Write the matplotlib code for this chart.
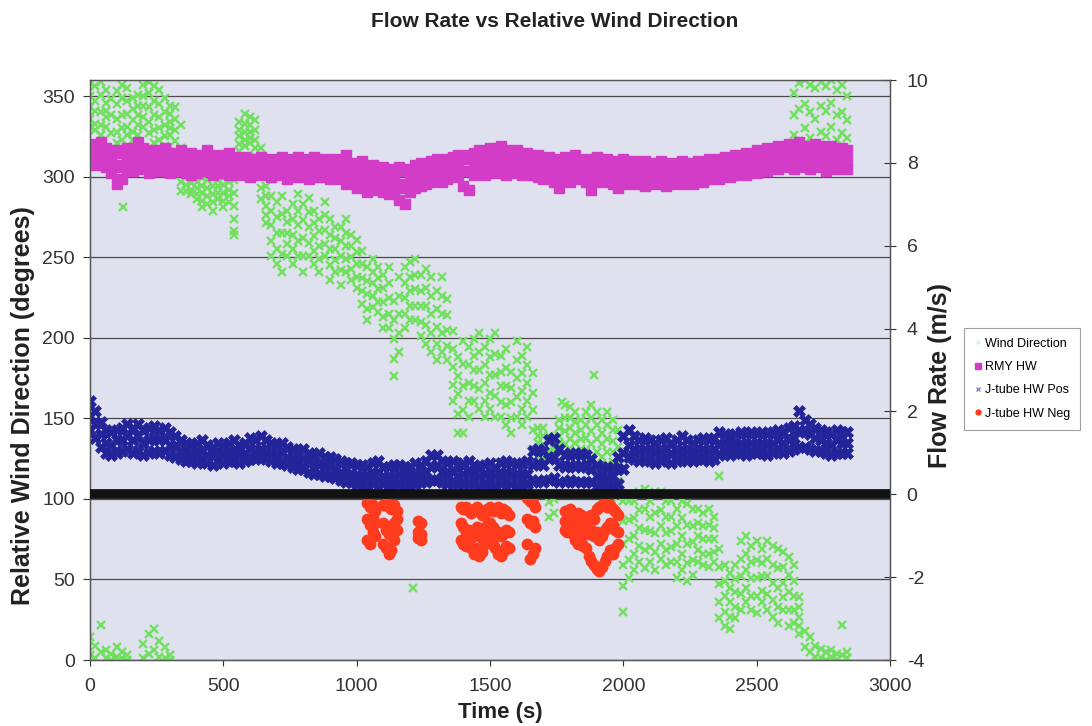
import numpy as np
import matplotlib
matplotlib.use('Agg')
import matplotlib.pyplot as plt
from matplotlib.lines import Line2D

plt.rcParams['font.family'] = ['Liberation Sans', 'DejaVu Sans']
plt.rcParams['axes.unicode_minus'] = False

# ---------------- data ----------------
# Wind direction (deg), main cloud sampled every 20 s, five readings per time
wind_time = np.arange(0, 2661, 20)
wind_s1 = [358,356,359,354,348,353,357,355,349,351, 357,359,356,354,349,344,343,332,309,304,
           301,299,304,299,302,299,301,298,334,339, 337,335,318,294,288,284,288,279,283,289,
           283,287,279,274,284,274,269,269,274,264, 261,254,244,249,244,239,244,223,238,244,
           247,249,239,243,238,229,238,224,204,188, 198,194,199,203,194,199,203,189,193,179,
           198,189,194,178,144,144,139,138,149,158, 157,154,149,154,158,154,149,154,149,143,
           99,99,99,104,106,99,104,104,99,99, 94,99,97,94,94,91,94,89,69,59,
           54,59,74,77,71,74,69,74,71,69, 67,64,59,39]
wind_s2 = [350,347,351,346,338,345,349,347,342,344, 350,352,347,345,340,339,336,318,304,300,
           297,294,298,294,298,295,297,290,329,333, 332,329,310,288,279,275,277,272,274,279,
           273,278,271,266,276,264,262,260,265,257, 253,246,235,241,237,231,234,211,226,234,
           238,239,229,231,226,218,226,214,193,176, 184,183,189,191,183,188,190,179,181,169,
           186,178,183,166,139,139,130,131,144,150, 150,148,143,146,150,146,141,146,143,132,
           86,87,88,93,94,89,91,93,89,89, 83,88,84,83,85,83,84,82,58,49,
           45,50,63,66,61,62,60,63,59,57, 58,53,49,33]
wind_s3 = [343,341,340,341,327,336,338,339,335,338, 344,343,338,337,332,334,329,305,300,296,
           293,290,293,289,294,290,292,282,325,328, 328,323,301,282,270,265,265,265,264,270,
           262,269,263,257,267,255,255,251,257,250, 246,237,227,234,230,222,225,199,215,225,
           229,230,220,220,215,207,215,205,182,165, 170,172,180,180,172,177,177,170,170,160,
           175,167,172,155,135,134,125,126,139,142, 144,141,137,138,142,137,134,137,136,122,
           72,75,77,82,81,80,79,83,79,80, 72,77,72,73,77,75,75,75,47,40,
           36,42,52,56,51,51,52,52,48,45, 48,42,40,27]
wind_s4 = [336,333,332,337,315,328,330,331,328,332, 337,334,329,330,325,330,322,297,295,292,
           289,285,288,284,290,285,288,274,320,323, 324,318,293,276,260,255,252,258,255,260,
           251,259,254,249,258,245,248,242,249,243, 238,229,218,226,222,213,215,187,203,215,
           220,220,210,208,203,196,203,195,171,153, 155,161,170,168,161,166,164,160,158,150,
           163,156,161,143,130,130,98,100,134,134, 137,135,131,130,134,129,126,129,129,111,
           59,62,66,71,68,70,67,72,68,70, 61,66,60,62,68,66,66,67,36,30,
           27,33,41,45,40,40,43,41,37,33, 39,31,31,21]
wind_s5 = [331,329,326,331,304,321,323,326,323,326, 331,327,321,323,319,326,316,291,291,289,
           286,281,283,279,286,281,284,266,316,319, 321,313,286,271,251,246,241,251,246,251,
           241,251,246,241,251,236,241,233,241,236, 231,221,211,219,216,206,206,176,191,206,
           211,211,201,196,191,186,191,186,161,141, 141,151,161,156,151,156,151,151,146,141,
           151,146,151,131,126,126,89,91,129,126, 131,129,126,123,126,121,119,121,123,101,
           46,51,56,61,57,61,56,63,59,61, 51,56,49,53,61,59,58,61,26,21,
           19,26,31,36,31,29,36,31,27,23, 31,21,23,16]
# wind direction readings wrapped near 360 at the end of the run
wrap_hi_time = np.arange(2640, 2841, 20)
wrap_hi_a = [352, 358, 360, 357, 355, 359, 356, 360, 354, 357, 350]
wrap_hi_b = [338, 342, 345, 340, 336, 344, 341, 346, 338, 340, 335]
wrap_hi_c = [326, 322, 330, 324, 320, 328, 325, 331, 323, 327, 324]
# wind direction readings wrapped near 0 (start and end of the run)
wrap_lo_time = [0, 20, 40, 60, 80, 100, 120, 140, 200, 220, 240, 260, 280, 300,
                2680, 2700, 2720, 2740, 2760, 2780, 2800, 2820, 2840]
wrap_lo_a = [14, 9, 22, 6, 4, 8, 5, 3, 10, 16, 19, 12, 8, 3,
             18, 14, 9, 7, 5, 6, 4, 22, 5]
wrap_lo_b = [3, 1, 5, 1, 0, 2, 1, 0, 1, 4, 6, 2, 1, 0,
             8, 5, 2, 1, 0, 2, 0, 3, 1]
# isolated wind direction readings
wind_out_time = [125, 540, 1211, 1770, 1890, 2000, 2360]
wind_out = [281, 264, 45, 160, 177, 30, 114]

# Flow rate series (m/s), sampled every 20 s
flow_time = np.arange(0, 2841, 20)
rmy_hi = [8.45,8.4,8.5,8.35,8.3,8.25,8.3,8.35,8.3,8.5, 8.35,8.3,8.25,8.3,8.35,8.25,8.2,8.3,8.2,8.25,
          8.15,8.2,8.3,8.2,8.15,8.2,8.25,8.15,8.1,8.15, 8.1,8.05,8.15,8.1,8.05,8.1,8.15,8.05,8.1,8.15,
          8.05,8.1,8.15,8.05,8.1,8.0,8.1,8.05,8.2,8.0, 7.95,8.05,7.9,7.95,7.85,7.9,7.8,7.85,7.9,7.8,
          7.85,7.95,8.0,7.95,8.05,8.1,8.0,8.1,8.15,8.2, 8.1,8.2,8.25,8.3,8.25,8.35,8.3,8.4,8.3,8.25,
          8.3,8.2,8.25,8.15,8.2,8.1,8.15,8.1,8.05,8.15, 8.1,8.2,8.1,8.05,8.1,8.15,8.05,8.1,8.0,8.05,
          8.1,8.0,8.05,7.95,8.05,8.0,7.95,8.05,8.0,7.95, 8.0,8.05,7.95,8.0,8.05,8.0,8.1,8.05,8.1,8.15,
          8.1,8.2,8.15,8.25,8.2,8.3,8.25,8.35,8.3,8.4, 8.35,8.45,8.4,8.5,8.4,8.35,8.45,8.4,8.35,8.4,
          8.3,8.35,8.3]
rmy_mid = [8.2,8.15,8.3,8.1,8.0,7.9,7.95,8.1,8.05,8.15, 8.1,8.0,8.05,8.1,8.05,8.0,8.0,8.05,8.0,7.95,
           7.95,8.0,8.05,7.95,7.95,8.0,7.95,7.95,7.9,7.95, 7.9,7.85,7.95,7.9,7.85,7.9,7.95,7.85,7.9,7.9,
           7.85,7.85,7.9,7.85,7.9,7.8,7.85,7.8,7.85,7.8, 7.7,7.75,7.6,7.65,7.6,7.6,7.5,7.6,7.5,7.4,
           7.55,7.7,7.7,7.7,7.8,7.85,7.75,7.85,7.9,7.95, 7.8,7.8,7.95,8.0,7.95,8.05,8.0,8.1,8.0,8.0,
           8.05,7.95,8.0,7.9,7.9,7.85,7.9,7.8,7.75,7.9, 7.8,7.9,7.85,7.8,7.75,7.85,7.8,7.85,7.75,7.7,
           7.8,7.75,7.8,7.7,7.75,7.75,7.75,7.8,7.7,7.7, 7.8,7.75,7.75,7.75,7.8,7.8,7.85,7.85,7.85,7.9,
           7.9,7.95,7.95,8.0,8.0,8.05,8.05,8.1,8.1,8.1, 8.1,8.2,8.1,8.2,8.15,8.1,8.2,8.15,8.1,8.15,
           8.1,8.1,8.05]
rmy_lo = [8.0,7.95,8.05,7.9,7.75,7.5,7.6,7.85,7.8,7.85, 7.9,7.75,7.8,7.85,7.8,7.75,7.8,7.85,7.75,7.7,
          7.75,7.8,7.85,7.7,7.75,7.8,7.7,7.75,7.7,7.75, 7.65,7.7,7.75,7.7,7.65,7.7,7.75,7.6,7.7,7.65,
          7.7,7.6,7.7,7.65,7.7,7.6,7.65,7.6,7.5,7.6, 7.4,7.45,7.3,7.35,7.4,7.3,7.25,7.35,7.1,7.0,
          7.3,7.4,7.45,7.5,7.55,7.6,7.55,7.6,7.65,7.7, 7.45,7.35,7.7,7.75,7.7,7.8,7.75,7.8,7.7,7.75,
          7.8,7.7,7.75,7.7,7.65,7.6,7.65,7.55,7.4,7.6, 7.55,7.65,7.6,7.55,7.35,7.6,7.55,7.6,7.5,7.4,
          7.55,7.5,7.55,7.5,7.45,7.5,7.55,7.5,7.45,7.5, 7.55,7.5,7.55,7.5,7.6,7.55,7.6,7.65,7.6,7.7,
          7.65,7.7,7.75,7.7,7.8,7.75,7.85,7.8,7.9,7.85, 7.9,7.95,7.85,7.95,7.9,7.85,7.95,7.9,7.8,7.95,
          7.85,7.9,7.85]
jpos_hi = [2.25,2.0,1.75,1.55,1.5,1.55,1.6,1.7,1.6,1.7, 1.55,1.6,1.65,1.55,1.6,1.5,1.4,1.3,1.25,1.2,
           1.25,1.3,1.2,1.15,1.25,1.2,1.25,1.3,1.2,1.25, 1.35,1.3,1.4,1.3,1.25,1.2,1.25,1.15,1.1,1.05,
           1.1,1.0,0.95,1.0,0.9,0.9,0.85,0.8,0.75,0.75, 0.7,0.7,0.65,0.75,0.8,0.65,0.65,0.7,0.7,0.65,
           0.65,0.75,0.7,0.8,0.95,0.95,0.8,0.75,0.8,0.7, 0.75,0.8,0.7,0.65,0.7,0.75,0.65,0.75,0.8,0.75,
           0.7,0.75,0.8,1.05,1.1,1.05,1.3,1.35,1.1,0.95, 1.0,0.95,1.0,0.95,0.85,0.7,0.65,0.6,0.65,0.9,
           1.4,1.55,1.4,1.3,1.35,1.3,1.25,1.3,1.35,1.25, 1.3,1.4,1.3,1.25,1.3,1.35,1.3,1.35,1.5,1.45,
           1.4,1.45,1.5,1.45,1.5,1.45,1.5,1.45,1.5,1.55, 1.5,1.6,1.65,2.0,1.8,1.7,1.6,1.55,1.5,1.45,
           1.55,1.5,1.5]
jpos_mid = [1.9,1.7,1.45,1.25,1.2,1.3,1.3,1.4,1.3,1.4, 1.25,1.3,1.35,1.3,1.3,1.2,1.15,1.05,1.0,1.0,
            1.0,1.05,0.95,0.95,1.0,1.0,1.0,1.05,1.0,1.0, 1.1,1.05,1.1,1.05,1.0,0.95,1.0,0.9,0.85,0.8,
            0.85,0.8,0.75,0.7,0.7,0.65,0.6,0.55,0.5,0.5, 0.45,0.45,0.45,0.5,0.55,0.45,0.4,0.45,0.5,0.45,
            0.45,0.5,0.5,0.55,0.65,0.7,0.55,0.5,0.55,0.45, 0.5,0.55,0.5,0.45,0.5,0.5,0.45,0.5,0.55,0.5,
            0.45,0.5,0.5,0.7,0.75,0.7,0.85,0.9,0.7,0.65, 0.7,0.65,0.7,0.65,0.6,0.45,0.4,0.4,0.45,0.6,
            1.0,1.2,1.1,1.05,1.1,1.05,1.0,1.05,1.1,1.0, 1.05,1.1,1.05,1.0,1.05,1.1,1.05,1.1,1.2,1.25,
            1.2,1.2,1.25,1.2,1.25,1.2,1.25,1.2,1.25,1.3, 1.25,1.3,1.35,1.55,1.5,1.45,1.35,1.3,1.25,1.2,
            1.3,1.25,1.25]
jpos_lo = [1.55,1.35,1.15,1.0,0.95,1.0,1.05,1.1,1.0,1.05, 0.95,1.0,1.05,1.0,1.05,0.95,0.9,0.85,0.8,0.8,
           0.75,0.8,0.75,0.7,0.8,0.75,0.8,0.8,0.75,0.8, 0.85,0.85,0.9,0.85,0.8,0.75,0.75,0.7,0.65,0.6,
           0.6,0.55,0.5,0.5,0.45,0.45,0.4,0.35,0.3,0.3, 0.25,0.25,0.2,0.25,0.3,0.25,0.2,0.25,0.25,0.2,
           0.25,0.25,0.3,0.3,0.35,0.35,0.3,0.25,0.3,0.25, 0.25,0.3,0.25,0.2,0.25,0.25,0.2,0.25,0.3,0.25,
           0.2,0.25,0.25,0.3,0.35,0.3,0.35,0.4,0.3,0.3, 0.35,0.3,0.3,0.3,0.3,0.2,0.2,0.2,0.2,0.25,
           0.6,0.9,0.85,0.8,0.85,0.8,0.75,0.8,0.85,0.75, 0.8,0.85,0.8,0.8,0.85,0.85,0.8,0.85,0.95,1.0,
           0.95,1.0,1.0,0.95,1.0,1.0,1.0,0.95,1.0,1.05, 1.0,1.05,1.1,1.15,1.15,1.1,1.05,1.05,1.0,0.95,
           1.0,1.0,1.0]
# J-tube negative flow (only where present)
jneg_time = [1040, 1050, 1060, 1070, 1100, 1110, 1120, 1130, 1140, 1150, 1230, 1240,
             1390, 1400, 1410, 1420, 1430, 1440, 1450, 1460, 1470, 1480, 1490, 1500, 1510,
             1520, 1530, 1540, 1550, 1560, 1570,
             1640, 1650, 1660, 1670,
             1780, 1790, 1800, 1810, 1820, 1830, 1840, 1850, 1860, 1870, 1880, 1890, 1900,
             1910, 1920, 1930, 1940, 1950, 1960, 1970, 1980]
jneg_hi = [-0.2,-0.3,-0.25,-0.4, -0.25,-0.2,-0.3,-0.35,-0.25,-0.4, -0.65,-0.7,
           -0.3,-0.35,-0.3,-0.4,-0.45,-0.35,-0.3,-0.4,-0.5,-0.45,-0.35,-0.3,-0.4,-0.35,-0.3,-0.45,-0.35,-0.4,-0.5,
           -0.1,-0.15,-0.2,-0.3,
           -0.4,-0.45,-0.35,-0.5,-0.55,-0.45,-0.5,-0.6,-0.55,-0.65,-0.5,-0.6,-0.35,-0.3,-0.25,-0.2,-0.3,-0.25,-0.35,-0.4,-0.5]
jneg_mid = [-0.6,-0.75,-0.55,-0.7, -0.7,-0.85,-0.95,-0.8,-0.7,-0.6, -0.9,-0.95,
            -0.7,-0.8,-0.9,-0.85,-0.95,-1.0,-0.8,-0.9,-1.05,-0.9,-0.75,-0.7,-0.8,-0.85,-0.9,-1.0,-0.95,-0.85,-0.9,
            -0.6,-0.7,-0.65,-0.8,
            -0.65,-0.7,-0.6,-0.75,-0.8,-0.75,-0.8,-0.9,-0.85,-0.95,-0.85,-1.0,-0.9,-1.1,-1.0,-0.85,-0.8,-0.7,-0.75,-0.85,-0.9]
jneg_lo = [-1.1,-1.2,-0.9,-1.0, -1.2,-1.3,-1.45,-1.35,-1.1,-0.85, -1.05,-1.1,
           -1.1,-1.2,-1.25,-1.15,-1.3,-1.45,-1.3,-1.5,-1.4,-1.2,-1.0,-1.05,-1.2,-1.3,-1.45,-1.5,-1.4,-1.25,-1.3,
           -1.2,-1.55,-1.45,-1.3,
           -0.85,-0.9,-0.8,-0.95,-1.1,-1.2,-1.15,-1.25,-1.3,-1.5,-1.6,-1.7,-1.8,-1.85,-1.75,-1.6,-1.5,-1.35,-1.45,-1.3,-1.2]

wind_ticks = [0, 50, 100, 150, 200, 250, 300, 350]
flow_ticks = [-4, -2, 0, 2, 4, 6, 8, 10]
time_ticks = [0, 500, 1000, 1500, 2000, 2500, 3000]

# ---------------- style ----------------
GREEN = '#70E05E'
MAGENTA = '#D23CC6'
BLUE = '#23239A'
RED = '#FF3B1E'
BG = '#DFE1EE'

fig = plt.figure(figsize=(10.92, 7.26), dpi=100)
ax = fig.add_axes([0.0824, 0.0909, 0.7326, 0.7989])
ax.set_facecolor(BG)
ax.set_xlim(0, 3000)
ax.set_ylim(0, 360)
ax.set_yticks(wind_ticks)
ax.set_xticks(time_ticks)
ax.yaxis.grid(True, color='#4a4a4a', lw=0.9)
ax.set_axisbelow(True)
for sp in ax.spines.values():
    sp.set_color('#555555')
    sp.set_linewidth(1.0)
ax.tick_params(axis='y', direction='out', length=5, pad=6, labelsize=14, colors='#333333')
ax.tick_params(axis='x', direction='out', length=4, pad=9, labelsize=14, colors='#333333')

gkw = dict(linestyle='none', marker='x', ms=6, mew=1.7, color=GREEN)
for s in (wind_s1, wind_s2, wind_s3, wind_s4, wind_s5):
    ax.plot(wind_time, s, **gkw)
for s in (wrap_hi_a, wrap_hi_b, wrap_hi_c):
    ax.plot(wrap_hi_time, s, **gkw)
for s in (wrap_lo_a, wrap_lo_b):
    ax.plot(wrap_lo_time, s, **gkw)
ax.plot(wind_out_time, wind_out, **gkw)

ax2 = ax.twinx()
ax2.set_ylim(-4, 10)
ax2.set_yticks(flow_ticks)
ax2.tick_params(axis='y', direction='inout', length=8, pad=8, labelsize=14, colors='#333333')
for sp in ax2.spines.values():
    sp.set_color('#555555')

for s in (rmy_hi, rmy_mid, rmy_lo):
    ax2.plot(flow_time, s, linestyle='none', marker='s', ms=6.5, color=MAGENTA, mec=MAGENTA)
for s in (jpos_hi, jpos_mid, jpos_lo):
    ax2.plot(flow_time, s, linestyle='none', marker='X', ms=8, color=BLUE, mec=BLUE, mew=0.5)
for s in (jneg_hi, jneg_mid, jneg_lo):
    ax2.plot(jneg_time, s, linestyle='none', marker='o', ms=7.5, color=RED, mec=RED)
ax2.axhline(0, color='#111111', lw=7, zorder=5)

# texts
fig.text(0.508, 0.970, 'Flow Rate vs Relative Wind Direction', ha='center', va='center',
         fontsize=15, fontweight='bold', color='#222222')
fig.text(0.021, 0.442, 'Relative Wind Direction (degrees)', rotation=90, ha='center', va='center',
         fontsize=18, fontweight='bold', color='#222222')
fig.text(0.861, 0.483, 'Flow Rate (m/s)', rotation=90, ha='center', va='center',
         fontsize=18, fontweight='bold', color='#222222')
fig.text(0.458, 0.019, 'Time (s)', ha='center', va='center',
         fontsize=16, fontweight='bold', color='#222222')

handles = [
    Line2D([], [], linestyle='none', marker='x', ms=3, mew=0.8, color='#CFEFCB'),
    Line2D([], [], linestyle='none', marker='s', ms=4, color=MAGENTA),
    Line2D([], [], linestyle='none', marker='x', ms=3, mew=0.8, color='#6B6BC0'),
    Line2D([], [], linestyle='none', marker='o', ms=3.5, color=RED),
]
labels = ['Wind Direction', 'RMY HW', 'J-tube HW Pos', 'J-tube HW Neg']
leg = fig.legend(handles, labels, loc='upper left', bbox_to_anchor=(0.877, 0.557),
                 fontsize=9, frameon=True, fancybox=False, edgecolor='#888888',
                 handlelength=0.6, handletextpad=0.3, borderpad=0.8, labelspacing=0.9)
leg.get_frame().set_linewidth(0.8)

fig.savefig('out.png', dpi=100, facecolor='white')
